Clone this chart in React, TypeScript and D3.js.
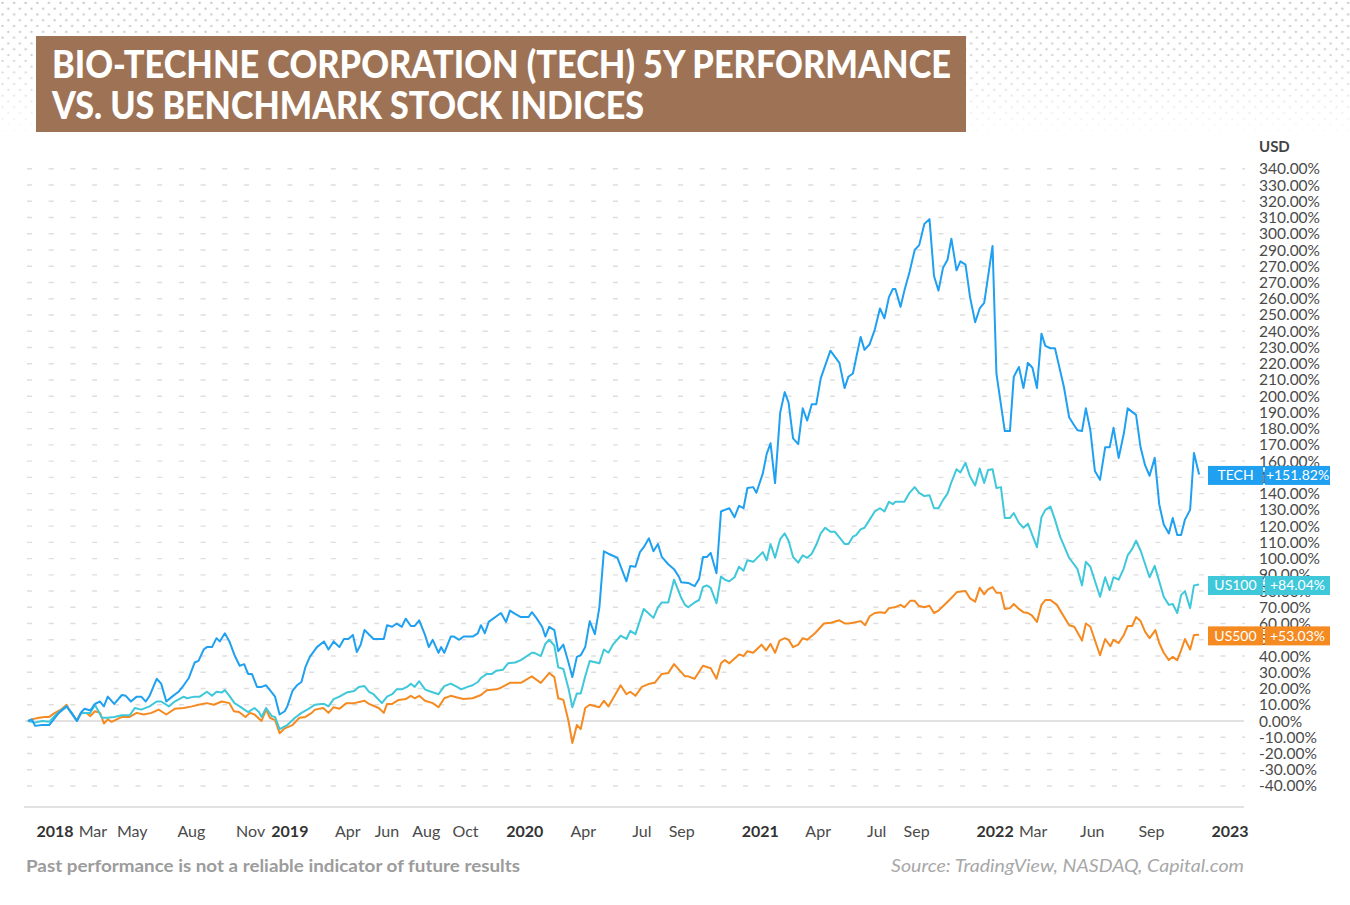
import React from "react";
import * as d3 from "d3";

const titleLines = ["BIO-TECHNE CORPORATION (TECH) 5Y PERFORMANCE", "VS. US BENCHMARK STOCK INDICES"];

const techData: [string, number][] = [
  ["2017-11-20",0],["2017-11-26",1],["2017-12-01",-3],["2017-12-12",-2.5],["2017-12-23",-2.5],["2017-12-30",1],
  ["2018-01-07",5],["2018-01-19",9],["2018-01-27",5],["2018-02-04",0],["2018-02-11",5.5],["2018-02-16",7.5],
  ["2018-02-25",6.5],["2018-03-04",10.5],["2018-03-12",12],["2018-03-18",9],["2018-03-24",15],["2018-04-03",10.5],
  ["2018-04-15",16],["2018-04-21",15.5],["2018-04-29",12],["2018-05-08",15],["2018-05-15",15],["2018-05-22",12],
  ["2018-05-28",15.5],["2018-06-08",26],["2018-06-15",23],["2018-06-23",12],["2018-07-02",15],["2018-07-12",18],
  ["2018-07-20",22],["2018-07-28",26.5],["2018-08-06",36],["2018-08-12",37],["2018-08-20",44],["2018-08-25",45.5],
  ["2018-09-02",45.5],["2018-09-09",51],["2018-09-14",49],["2018-09-22",54],["2018-09-29",49],["2018-10-07",40.5],
  ["2018-10-15",34],["2018-10-22",35],["2018-10-28",29],["2018-11-03",29],["2018-11-11",21],["2018-11-18",21],
  ["2018-11-25",22],["2018-12-01",19],["2018-12-09",15],["2018-12-16",4],["2018-12-24",6],["2018-12-28",9],
  ["2019-01-05",18.5],["2019-01-12",22],["2019-01-19",24],["2019-01-25",33],["2019-02-01",39.5],["2019-02-12",45.5],
  ["2019-02-23",49],["2019-03-02",44],["2019-03-10",49],["2019-03-19",45.5],["2019-03-26",50.5],["2019-04-02",50.5],
  ["2019-04-09",53],["2019-04-15",42.5],["2019-04-21",47],["2019-04-27",56],["2019-05-11",50.5],["2019-05-27",50.5],
  ["2019-06-01",59],["2019-06-09",58],["2019-06-16",60],["2019-06-24",58],["2019-06-30",63],["2019-07-08",58.5],
  ["2019-07-14",58.5],["2019-07-21",62],["2019-07-30",53],["2019-08-05",45.5],["2019-08-11",50],["2019-08-20",42],
  ["2019-08-24",45.5],["2019-08-29",42],["2019-09-08",52],["2019-09-13",52],["2019-09-21",50],["2019-09-28",52],
  ["2019-10-12",52],["2019-10-20",54],["2019-10-25",59],["2019-10-31",54],["2019-11-06",61],["2019-11-18",64.5],
  ["2019-11-25",66.5],["2019-12-03",61],["2019-12-09",68],["2019-12-17",66],["2019-12-26",64],["2020-01-07",64],
  ["2020-01-12",67],["2020-01-19",63.5],["2020-01-28",58],["2020-02-02",52],["2020-02-08",58],["2020-02-16",56],
  ["2020-02-22",43],["2020-03-01",47],["2020-03-09",36],["2020-03-15",27],["2020-03-22",39.5],["2020-03-28",40.5],
  ["2020-04-04",45.5],["2020-04-11",61.5],["2020-04-19",53.5],["2020-04-26",70],["2020-05-03",104.5],["2020-05-10",103],
  ["2020-05-24",100.5],["2020-06-07",86],["2020-06-13",95.5],["2020-06-21",95],["2020-06-28",104],["2020-07-04",107],
  ["2020-07-12",112.5],["2020-07-19",104.5],["2020-07-26",109],["2020-08-01",101],["2020-08-11",96.5],["2020-08-20",93.5],
  ["2020-08-28",88.5],["2020-08-31",85.5],["2020-09-11",85],["2020-09-21",83],["2020-09-28",87.5],["2020-10-04",101],
  ["2020-10-10",101],["2020-10-16",103.5],["2020-10-25",91],["2020-11-01",129],["2020-11-07",130],["2020-11-14",131],
  ["2020-11-22",125.5],["2020-11-29",132.5],["2020-12-06",131],["2020-12-12",143.5],["2020-12-21",144],["2020-12-26",140.5],
  ["2021-01-05",152.5],["2021-01-11",164.5],["2021-01-17",171],["2021-01-24",146.5],["2021-02-01",190],["2021-02-08",202.5],
  ["2021-02-14",196],["2021-02-21",174],["2021-03-01",170.5],["2021-03-08",192.5],["2021-03-15",185],["2021-03-22",195],
  ["2021-03-29",195],["2021-04-05",211],["2021-04-12",219],["2021-04-20",228],["2021-05-04",220.5],["2021-05-12",205],
  ["2021-05-18",212],["2021-05-25",214],["2021-05-30",223.5],["2021-06-06",236.5],["2021-06-12",228.5],["2021-06-20",232],
  ["2021-06-28",241],["2021-07-06",254],["2021-07-13",248],["2021-07-20",261],["2021-07-26",266],["2021-07-30",266],
  ["2021-08-07",255],["2021-08-13",265],["2021-08-21",276.5],["2021-08-29",290],["2021-09-05",293],["2021-09-13",306],
  ["2021-09-21",309],["2021-09-28",274],["2021-10-05",265],["2021-10-12",279],["2021-10-19",284],["2021-10-25",297],
  ["2021-11-02",277.5],["2021-11-08",283],["2021-11-16",281],["2021-11-23",261],["2021-12-01",245.5],["2021-12-08",254],
  ["2021-12-15",257.5],["2021-12-28",292.5],["2022-01-03",214],["2022-01-16",178.5],["2022-01-24",178.5],["2022-01-30",212],
  ["2022-02-07",218],["2022-02-14",205],["2022-02-21",220.5],["2022-02-28",217.5],["2022-03-07",205],["2022-03-14",238.5],
  ["2022-03-20",231],["2022-03-28",229.5],["2022-04-04",229.5],["2022-04-18",205.5],["2022-04-26",187],["2022-05-04",182],
  ["2022-05-09",179],["2022-05-16",178.5],["2022-05-22",192.5],["2022-05-29",179],["2022-06-05",154],["2022-06-13",148.5],
  ["2022-06-21",168.5],["2022-06-28",168.5],["2022-07-04",180.5],["2022-07-12",162],["2022-07-20",177],["2022-07-26",192.5],
  ["2022-08-08",188.5],["2022-08-15",168.5],["2022-08-22",157.5],["2022-08-29",151],["2022-09-06",162],["2022-09-13",133.5],
  ["2022-09-20",121],["2022-09-28",115.5],["2022-10-04",125],["2022-10-11",114.5],["2022-10-17",114.5],["2022-10-23",124],
  ["2022-10-31",130],["2022-11-06",165],["2022-11-14",151.82],
];

const us100Data: [string, number][] = [
  ["2017-11-20",0],["2017-12-01",-1],["2017-12-12",0],["2017-12-23",-0.5],["2017-12-30",2.5],["2018-01-07",5.5],
  ["2018-01-19",9],["2018-02-04",0],["2018-02-11",5],["2018-02-25",5],["2018-03-04",10],["2018-03-15",2],
  ["2018-03-24",2],["2018-04-03",2.5],["2018-04-15",3.5],["2018-04-27",3.5],["2018-05-05",8],["2018-05-15",7],
  ["2018-05-28",9],["2018-06-08",12],["2018-06-15",12],["2018-06-27",9],["2018-07-06",12],["2018-07-20",15],
  ["2018-07-25",14],["2018-08-06",15],["2018-08-14",15],["2018-08-25",18],["2018-09-02",15.5],["2018-09-09",18],
  ["2018-09-17",17.5],["2018-09-22",19],["2018-09-29",15.5],["2018-10-07",11],["2018-10-15",9],["2018-10-28",5.5],
  ["2018-11-07",8],["2018-11-14",5.5],["2018-11-18",2.5],["2018-11-25",8],["2018-12-04",3],["2018-12-09",2.5],
  ["2018-12-16",-5],["2018-12-28",-2.5],["2019-01-09",2],["2019-01-19",5],["2019-01-30",7.5],["2019-02-09",10],
  ["2019-02-19",10.5],["2019-02-23",10.5],["2019-03-02",9],["2019-03-10",13.5],["2019-03-19",15],["2019-03-30",17.5],
  ["2019-04-11",18.5],["2019-04-18",21],["2019-04-27",21.5],["2019-05-04",18],["2019-05-11",16.5],["2019-05-24",11],
  ["2019-06-01",15],["2019-06-09",16.5],["2019-06-16",19.5],["2019-06-24",19.5],["2019-07-02",21],["2019-07-08",23],
  ["2019-07-14",21],["2019-07-21",24.5],["2019-07-30",19.5],["2019-08-05",18.5],["2019-08-20",16.5],["2019-08-29",21.5],
  ["2019-09-08",23],["2019-09-18",21],["2019-09-24",19.5],["2019-10-04",21],["2019-10-12",22],["2019-10-20",24],
  ["2019-10-25",26.5],["2019-11-03",29],["2019-11-11",29],["2019-11-18",31],["2019-11-28",31.5],["2019-12-06",35.5],
  ["2019-12-17",36],["2019-12-26",37.5],["2020-01-12",42],["2020-01-16",42],["2020-01-26",40],["2020-02-02",47.5],
  ["2020-02-08",50],["2020-02-16",46.5],["2020-02-22",33],["2020-03-01",32],["2020-03-09",20],["2020-03-15",8.5],
  ["2020-03-22",17],["2020-03-28",17],["2020-04-04",27.5],["2020-04-11",37],["2020-04-26",35.5],["2020-05-03",44],
  ["2020-05-10",42],["2020-05-17",47],["2020-05-29",52.5],["2020-06-07",50.5],["2020-06-13",55.5],["2020-06-21",53.5],
  ["2020-07-04",69],["2020-07-19",63.5],["2020-07-26",70],["2020-08-01",73],["2020-08-11",73],["2020-08-20",87],
  ["2020-08-31",76],["2020-09-06",71.5],["2020-09-11",70],["2020-09-21",73],["2020-09-28",74.5],["2020-10-04",82.5],
  ["2020-10-10",83.5],["2020-10-16",82],["2020-10-25",72.5],["2020-11-01",89],["2020-11-07",87],["2020-11-14",86],
  ["2020-11-22",88.5],["2020-11-29",95],["2020-12-06",92.5],["2020-12-12",99],["2020-12-21",98],["2021-01-05",104],
  ["2021-01-11",99],["2021-01-17",109],["2021-01-24",100.5],["2021-02-01",112],["2021-02-08",115.5],["2021-02-14",111],
  ["2021-02-21",101],["2021-03-01",97.5],["2021-03-08",102],["2021-03-15",100.5],["2021-03-22",103],["2021-03-29",108.5],
  ["2021-04-05",115.5],["2021-04-12",119],["2021-04-20",116.5],["2021-04-27",116.5],["2021-05-04",113],["2021-05-12",109],
  ["2021-05-18",109],["2021-05-25",113.5],["2021-05-30",114.5],["2021-06-06",118],["2021-06-12",119],["2021-06-20",124],
  ["2021-06-28",129],["2021-07-06",131],["2021-07-13",129],["2021-07-20",135],["2021-07-26",133.5],["2021-07-30",135],
  ["2021-08-13",135],["2021-08-21",140.5],["2021-08-29",144],["2021-09-05",140.5],["2021-09-13",138.5],["2021-09-21",139],
  ["2021-09-28",131],["2021-10-05",131],["2021-10-12",136],["2021-10-19",140],["2021-10-25",147],["2021-11-02",155],
  ["2021-11-08",153],["2021-11-16",159],["2021-11-23",150.5],["2021-12-01",145],["2021-12-08",155.5],["2021-12-15",146.5],
  ["2021-12-21",154.5],["2021-12-28",155],["2022-01-03",143.5],["2022-01-10",144],["2022-01-16",125],["2022-01-24",125],
  ["2022-01-30",128],["2022-02-07",122],["2022-02-14",119],["2022-02-21",121.5],["2022-03-07",107],["2022-03-14",125.5],
  ["2022-03-20",130],["2022-03-28",132],["2022-04-04",124],["2022-04-12",113.5],["2022-04-26",100.5],["2022-05-09",93.5],
  ["2022-05-16",83.5],["2022-05-22",98],["2022-05-29",95],["2022-06-13",76.5],["2022-06-21",88.5],["2022-06-28",80.5],
  ["2022-07-04",88.5],["2022-07-12",87],["2022-07-20",94],["2022-07-26",102],["2022-08-02",106],["2022-08-08",111],
  ["2022-08-15",105],["2022-08-29",88.5],["2022-09-06",95.5],["2022-09-20",76.5],["2022-09-28",71.5],["2022-10-04",72],
  ["2022-10-11",66.5],["2022-10-17",77.5],["2022-10-23",80],["2022-10-31",69.5],["2022-11-06",83.5],["2022-11-14",84.04],
];

const us500Data: [string, number][] = [
  ["2017-11-20",0],["2017-11-26",1],["2017-12-07",2],["2017-12-16",2.5],["2017-12-23",2.5],["2018-01-01",5],
  ["2018-01-12",7.5],["2018-01-19",10],["2018-01-25",5.5],["2018-02-04",0.5],["2018-02-10",5],["2018-02-19",5],
  ["2018-02-25",3],["2018-03-04",6],["2018-03-12",5],["2018-03-18",-1.5],["2018-03-24",1],["2018-03-30",-0.5],
  ["2018-04-07",1],["2018-04-15",2.5],["2018-04-27",2.5],["2018-05-08",5],["2018-05-19",4],["2018-05-31",5],
  ["2018-06-11",7],["2018-06-23",4],["2018-07-06",7.5],["2018-07-20",8],["2018-08-02",9],["2018-08-12",10],
  ["2018-08-25",11],["2018-09-05",10],["2018-09-17",12],["2018-09-29",11],["2018-10-06",6],["2018-10-14",5.5],
  ["2018-10-24",2.5],["2018-10-31",5],["2018-11-07",4],["2018-11-18",0],["2018-11-25",7],["2018-12-01",2],
  ["2018-12-09",0.5],["2018-12-16",-7.5],["2018-12-24",-4.5],["2019-01-05",-2.5],["2019-01-16",2],["2019-01-25",2.5],
  ["2019-02-04",5],["2019-02-09",7],["2019-02-22",8],["2019-03-02",5],["2019-03-10",8.5],["2019-03-19",7.5],
  ["2019-03-30",11],["2019-04-11",11],["2019-04-27",12.5],["2019-05-04",10.5],["2019-05-19",8],["2019-05-27",5],
  ["2019-06-01",10.5],["2019-06-09",10.5],["2019-06-19",13],["2019-06-30",13.5],["2019-07-08",15.5],["2019-07-14",14],
  ["2019-07-21",15.5],["2019-07-30",12.5],["2019-08-11",11],["2019-08-20",8.5],["2019-08-29",14],["2019-09-08",15.5],
  ["2019-09-18",14.5],["2019-09-28",13.5],["2019-10-12",14],["2019-10-25",16],["2019-11-03",19],["2019-11-18",19.5],
  ["2019-11-25",20.5],["2019-12-09",23.5],["2019-12-26",23.5],["2020-01-12",27.5],["2020-01-26",23.5],["2020-02-08",29.5],
  ["2020-02-16",27],["2020-02-22",14],["2020-03-01",13],["2020-03-09",0],["2020-03-15",-13.5],["2020-03-22",-2.5],
  ["2020-03-28",-5],["2020-04-04",8],["2020-04-11",10],["2020-04-26",8.5],["2020-05-03",12.5],["2020-05-10",9],
  ["2020-05-29",22],["2020-06-07",16.5],["2020-06-13",18],["2020-06-21",15.5],["2020-07-01",21],["2020-07-13",23],
  ["2020-07-21",23.5],["2020-08-01",29],["2020-08-11",29.5],["2020-08-20",35],["2020-09-06",27.5],["2020-09-11",27.5],
  ["2020-09-21",26],["2020-10-04",34],["2020-10-16",32.5],["2020-10-25",26],["2020-11-01",35.5],["2020-11-07",37.5],
  ["2020-11-14",35.5],["2020-11-29",41],["2020-12-06",40],["2020-12-12",43],["2020-12-21",42],["2021-01-03",47],
  ["2021-01-10",43.5],["2021-01-17",47.5],["2021-01-24",42],["2021-01-31",49.5],["2021-02-08",51],["2021-02-14",50],
  ["2021-02-21",45.5],["2021-03-01",47],["2021-03-08",51],["2021-03-15",50],["2021-03-27",54],["2021-04-10",60],
  ["2021-04-21",60.5],["2021-05-04",62],["2021-05-13",60],["2021-05-18",60],["2021-05-25",60.5],["2021-06-06",61.5],
  ["2021-06-13",59],["2021-06-20",64.5],["2021-06-28",66.5],["2021-07-07",67],["2021-07-14",66.5],["2021-07-20",69.5],
  ["2021-07-29",70],["2021-08-07",71.5],["2021-08-13",70],["2021-08-22",74],["2021-08-29",74],["2021-09-04",71],
  ["2021-09-13",70],["2021-09-21",71],["2021-09-28",66.5],["2021-10-05",68],["2021-10-22",74.5],["2021-11-03",79.5],
  ["2021-11-16",80],["2021-11-23",75.5],["2021-12-01",73.5],["2021-12-08",82],["2021-12-15",78],["2021-12-21",81],
  ["2021-12-28",82.5],["2022-01-03",79],["2022-01-10",79],["2022-01-16",69],["2022-01-24",69.5],["2022-01-30",72],
  ["2022-02-07",69],["2022-02-14",67],["2022-02-21",66.5],["2022-02-27",65],["2022-03-07",61],["2022-03-14",71.5],
  ["2022-03-20",74.5],["2022-03-28",74.5],["2022-04-07",71.5],["2022-04-26",59],["2022-05-04",58],["2022-05-16",49.5],
  ["2022-05-22",60],["2022-05-29",58],["2022-06-13",40.5],["2022-06-21",50.5],["2022-06-29",46],["2022-07-04",50],
  ["2022-07-12",48],["2022-07-20",53],["2022-07-26",58.5],["2022-08-02",58.5],["2022-08-08",64],["2022-08-15",61.5],
  ["2022-08-22",55],["2022-08-29",51],["2022-09-07",56],["2022-09-13",48],["2022-09-20",42],["2022-09-28",37.5],
  ["2022-10-04",39.5],["2022-10-11",37.5],["2022-10-17",43.5],["2022-10-23",50.5],["2022-10-31",44],["2022-11-06",53],
  ["2022-11-14",53.03],
];

const yTickValues = [340,330,320,310,300,290,280,270,260,250,240,230,220,210,200,190,180,170,160,150,140,130,120,110,100,90,80,70,60,50,40,30,20,10,0,-10,-20,-30,-40];
const yTickLabels = ["340.00%","330.00%","320.00%","310.00%","300.00%","290.00%","270.00%","270.00%","260.00%","250.00%","240.00%","230.00%","220.00%","210.00%","200.00%","190.00%","180.00%","170.00%","160.00%","150.00%","140.00%","130.00%","120.00%","110.00%","100.00%","90.00%","80.00%","70.00%","60.00%","50.00%","40.00%","30.00%","20.00%","10.00%","0.00%","-10.00%","-20.00%","-30.00%","-40.00%"];

const xTickDates = ["2018-01-01","2018-03-01","2018-05-01","2018-08-01","2018-11-01","2019-01-01","2019-04-01","2019-06-01","2019-08-01","2019-10-01","2020-01-01","2020-04-01","2020-07-01","2020-09-01","2021-01-01","2021-04-01","2021-07-01","2021-09-01","2022-01-01","2022-03-01","2022-06-01","2022-09-01","2023-01-01"];
const xTickLabels = ["2018","Mar","May","Aug","Nov","2019","Apr","Jun","Aug","Oct","2020","Apr","Jul","Sep","2021","Apr","Jul","Sep","2022","Mar","Jun","Sep","2023"];

const seriesNames = ["US500", "US100", "TECH"];
const seriesColors = ["#F58A21", "#3EC8DA", "#1FA0F0"];
const seriesLast = ["+53.03%", "+84.04%", "+151.82%"];
const seriesData = [us500Data, us100Data, techData];

const footerNote = "Past performance is not a reliable indicator of future results";
const sourceNote = "Source: TradingView, NASDAQ, Capital.com";

const parse = d3.timeParse("%Y-%m-%d");

export default function App() {
  const W = 1350, H = 905;
  const x = d3.scaleTime().domain([parse("2018-01-01")!, parse("2023-01-01")!]).range([55, 1230]);
  const y = d3.scaleLinear().domain([0, 340]).range([721, 168.8]);
  const line = d3.line<[string, number]>().x(d => x(parse(d[0])!)).y(d => y(d[1]));
  const gridX0 = 27, gridX1 = 1245;
  const font = "Lato, 'Open Sans', sans-serif";

  return (
    <svg width={W} height={H} style={{ position: "absolute", left: 0, top: 0, background: "#fff" }}>
      <defs>
        <pattern id="dots" patternUnits="userSpaceOnUse" width={11.6} height={11.6}>
          <circle cx={2.5} cy={2.8} r={1.15} fill="#c4c4c4" />
          <circle cx={8.3} cy={8.6} r={1.15} fill="#c4c4c4" />
        </pattern>
        <linearGradient id="fade" x1="0" y1="0" x2="0" y2="1">
          <stop offset="0" stopColor="#fff" stopOpacity={1} />
          <stop offset="0.35" stopColor="#fff" stopOpacity={0.85} />
          <stop offset="1" stopColor="#fff" stopOpacity={0} />
        </linearGradient>
        <mask id="fadeMask">
          <rect x={0} y={0} width={W} height={140} fill="url(#fade)" />
        </mask>
      </defs>
      <rect x={0} y={0} width={W} height={H} fill="#fff" />
      <rect x={0} y={0} width={W} height={140} fill="url(#dots)" mask="url(#fadeMask)" />

      {/* Title */}
      <rect x={36} y={36} width={930} height={96} fill="#9E7355" />
      <text x={52} y={78} fill="#fff" fontFamily={font} fontWeight={900} fontSize={37} textLength={899} lengthAdjust="spacingAndGlyphs">{titleLines[0]}</text>
      <text x={52} y={119} fill="#fff" fontFamily={font} fontWeight={900} fontSize={37} textLength={592} lengthAdjust="spacingAndGlyphs">{titleLines[1]}</text>

      {/* Grid */}
      {yTickValues.filter(v => v !== 0).map(v => (
        <line key={v} x1={gridX0} x2={gridX1} y1={y(v)} y2={y(v)} stroke="#dedede" strokeWidth={1.4} strokeDasharray="5 16.7" />
      ))}
      <line x1={25} x2={1244} y1={y(0)} y2={y(0)} stroke="#d9d9d9" strokeWidth={1.5} />
      <line x1={24} x2={1244} y1={807} y2={807} stroke="#e2e2e2" strokeWidth={2} />

      {/* Lines */}
      {seriesData.map((d, i) => (
        <path key={seriesNames[i]} d={line(d) || ""} fill="none" stroke={seriesColors[i]} strokeWidth={2} strokeLinejoin="round" />
      ))}

      {/* Y axis labels */}
      <text x={1259} y={152} fontFamily={font} fontWeight={700} fontSize={15} fill="#444">USD</text>
      {yTickValues.map((v, i) => (
        <text key={v} x={1259} y={y(v) + 5.5} fontFamily={font} fontSize={15.5} fill="#4a4a4a">{yTickLabels[i]}</text>
      ))}

      {/* Tags */}
      {seriesNames.map((name, i) => {
        const last = seriesData[i][seriesData[i].length - 1][1];
        const cy = y(last) + 1;
        return (
          <g key={name}>
            <rect x={1208} y={cy - 9.5} width={55} height={19} fill={seriesColors[i]} />
            <rect x={1265} y={cy - 9.5} width={65} height={19} fill={seriesColors[i]} />
            <line x1={1264} x2={1264} y1={cy - 9.5} y2={cy + 9.5} stroke={seriesColors[i]} strokeWidth={1} strokeDasharray="2 2" />
            <text x={1235.5} y={cy + 4.8} textAnchor="middle" fontFamily={font} fontSize={14} fill="#fff">{name}</text>
            <text x={1297.5} y={cy + 4.8} textAnchor="middle" fontFamily={font} fontSize={14} fill="#fff">{seriesLast[i]}</text>
          </g>
        );
      })}

      {/* X axis labels */}
      {xTickDates.map((ds, i) => {
        const bold = /^\d{4}$/.test(xTickLabels[i]);
        return (
          <text key={ds} x={x(parse(ds)!)} y={837} textAnchor="middle" fontFamily={font} fontSize={16}
            fontWeight={bold ? 700 : 400} fill={bold ? "#333" : "#4a4a4a"}>{xTickLabels[i]}</text>
        );
      })}

      {/* Footer */}
      <text x={26} y={872} fontFamily={font} fontWeight={700} fontSize={17} fill="#9c9c9c" textLength={494} lengthAdjust="spacingAndGlyphs">{footerNote}</text>
      <text x={1244} y={872} textAnchor="end" fontFamily={font} fontStyle="italic" fontSize={17} fill="#a8a8a8" textLength={353} lengthAdjust="spacingAndGlyphs">{sourceNote}</text>
    </svg>
  );
}
